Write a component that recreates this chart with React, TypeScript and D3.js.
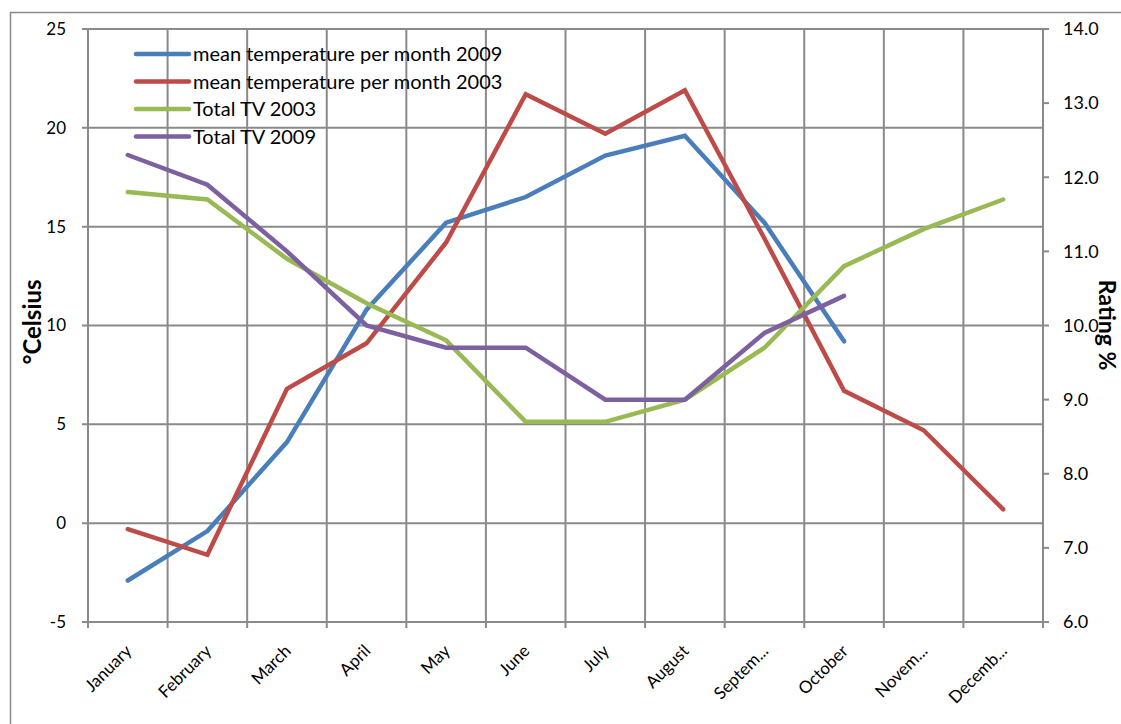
import * as React from 'react'
import * as d3 from 'd3'

// chart data
const months = ['January', 'February', 'March', 'April', 'May', 'June', 'July', 'August', 'Septem...', 'October', 'Novem...', 'Decemb...']
const temp2009 = [-2.9, -0.4, 4.1, 10.8, 15.2, 16.5, 18.6, 19.6, 15.2, 9.2, null, null]
const temp2003 = [-0.3, -1.6, 6.8, 9.1, 14.2, 21.7, 19.7, 21.9, 14.4, 6.7, 4.7, 0.7]
const tv2003 = [11.8, 11.7, 10.9, 10.3, 9.8, 8.7, 8.7, 9.0, 9.7, 10.8, 11.3, 11.7]
const tv2009 = [12.3, 11.9, 11.0, 10.0, 9.7, 9.7, 9.0, 9.0, 9.9, 10.4, null, null]
const leftTicks = [-5, 0, 5, 10, 15, 20, 25]
const rightTicks = [6, 7, 8, 9, 10, 11, 12, 13, 14]

const series = [
    { name: 'mean temperature per month 2009', values: temp2009, axis: 'left', color: '#4a7ebb' },
    { name: 'mean temperature per month 2003', values: temp2003, axis: 'left', color: '#be4b48' },
    { name: 'Total TV 2003', values: tv2003, axis: 'right', color: '#98b954' },
    { name: 'Total TV 2009', values: tv2009, axis: 'right', color: '#7d60a0' },
]

const W = 1121
const H = 724
const margin = { left: 88, right: 1043, top: 29, bottom: 622 }
const grid = '#8a8a8a'
const font = 'Lato, "Open Sans", sans-serif'

export default function App () {
    const x = d3.scaleBand<string>().domain(months).range([margin.left, margin.right])
    const yL = d3.scaleLinear().domain([-5, 25]).range([margin.bottom, margin.top])
    const yR = d3.scaleLinear().domain([6, 14]).range([margin.bottom, margin.top])
    const cx = (m: string) => (x(m) as number) + x.bandwidth() / 2
    const bounds = months.map(m => x(m) as number).concat([margin.right])

    const getPath = (s: typeof series[0]) => {
        const y = s.axis === 'left' ? yL : yR
        const line = d3.line<number | null>()
            .defined(v => v !== null)
            .x((_, i) => cx(months[i]))
            .y(v => y(v as number))
        return line(s.values)
    }

    return <svg width={W} height={H} style={{ position: 'absolute', left: 0, top: 0, background: '#fff' }}>
        {/* outer border */}
        <path d={`M10.5,${H}V12.5H${W}`} fill='none' stroke={grid} strokeWidth={1.5} />

        {/* grid */}
        {leftTicks.map(t => <line key={'h' + t} x1={margin.left - 6} x2={margin.right} y1={yL(t)} y2={yL(t)} stroke={grid} strokeWidth={2} />)}
        {bounds.map((b, i) => <line key={'v' + i} x1={b} x2={b} y1={margin.top} y2={margin.bottom + 6} stroke={grid} strokeWidth={2} />)}
        {rightTicks.map(t => <line key={'r' + t} x1={margin.right} x2={margin.right + 6} y1={yR(t)} y2={yR(t)} stroke={grid} strokeWidth={2} />)}

        {/* left axis labels */}
        {leftTicks.map(t => <text key={'lt' + t} x={66} y={yL(t)} dy='0.35em' textAnchor='end' fontFamily={font} fontSize={17} fill='#000'>{t}</text>)}
        {/* right axis labels */}
        {rightTicks.map(t => <text key={'rt' + t} x={1063} y={yR(t)} dy='0.35em' textAnchor='start' fontFamily={font} fontSize={18} fill='#000'>{t.toFixed(1)}</text>)}

        {/* month labels */}
        {months.map(m => <text key={m} transform={`translate(${cx(m) + 5},${652}) rotate(-45)`} textAnchor='end' fontFamily={font} fontSize={17} fill='#000'>{m}</text>)}

        {/* axis titles */}
        <text transform={`translate(41,${322}) rotate(-90)`} textAnchor='middle' fontFamily={font} fontSize={24} fontWeight='bold'>°Celsius</text>
        <text transform={`translate(1099,${325}) rotate(90)`} textAnchor='middle' fontFamily={font} fontSize={23} fontWeight='bold'>Rating %</text>

        {/* lines */}
        {series.map(s => <path key={s.name} d={getPath(s) || ''} fill='none' stroke={s.color} strokeWidth={4.5} strokeLinecap='round' strokeLinejoin='miter' />)}

        {/* legend */}
        {series.map((s, i) => <g key={'lg' + i} transform={`translate(0,${54 + i * 27.5})`}>
            <line x1={136} x2={189} y1={0} y2={0} stroke={s.color} strokeWidth={4.5} strokeLinecap='round' />
            <text x={193} y={0} dy='0.35em' fontFamily={font} fontSize={20} fill='#000'>{s.name}</text>
        </g>)}
    </svg>
}
